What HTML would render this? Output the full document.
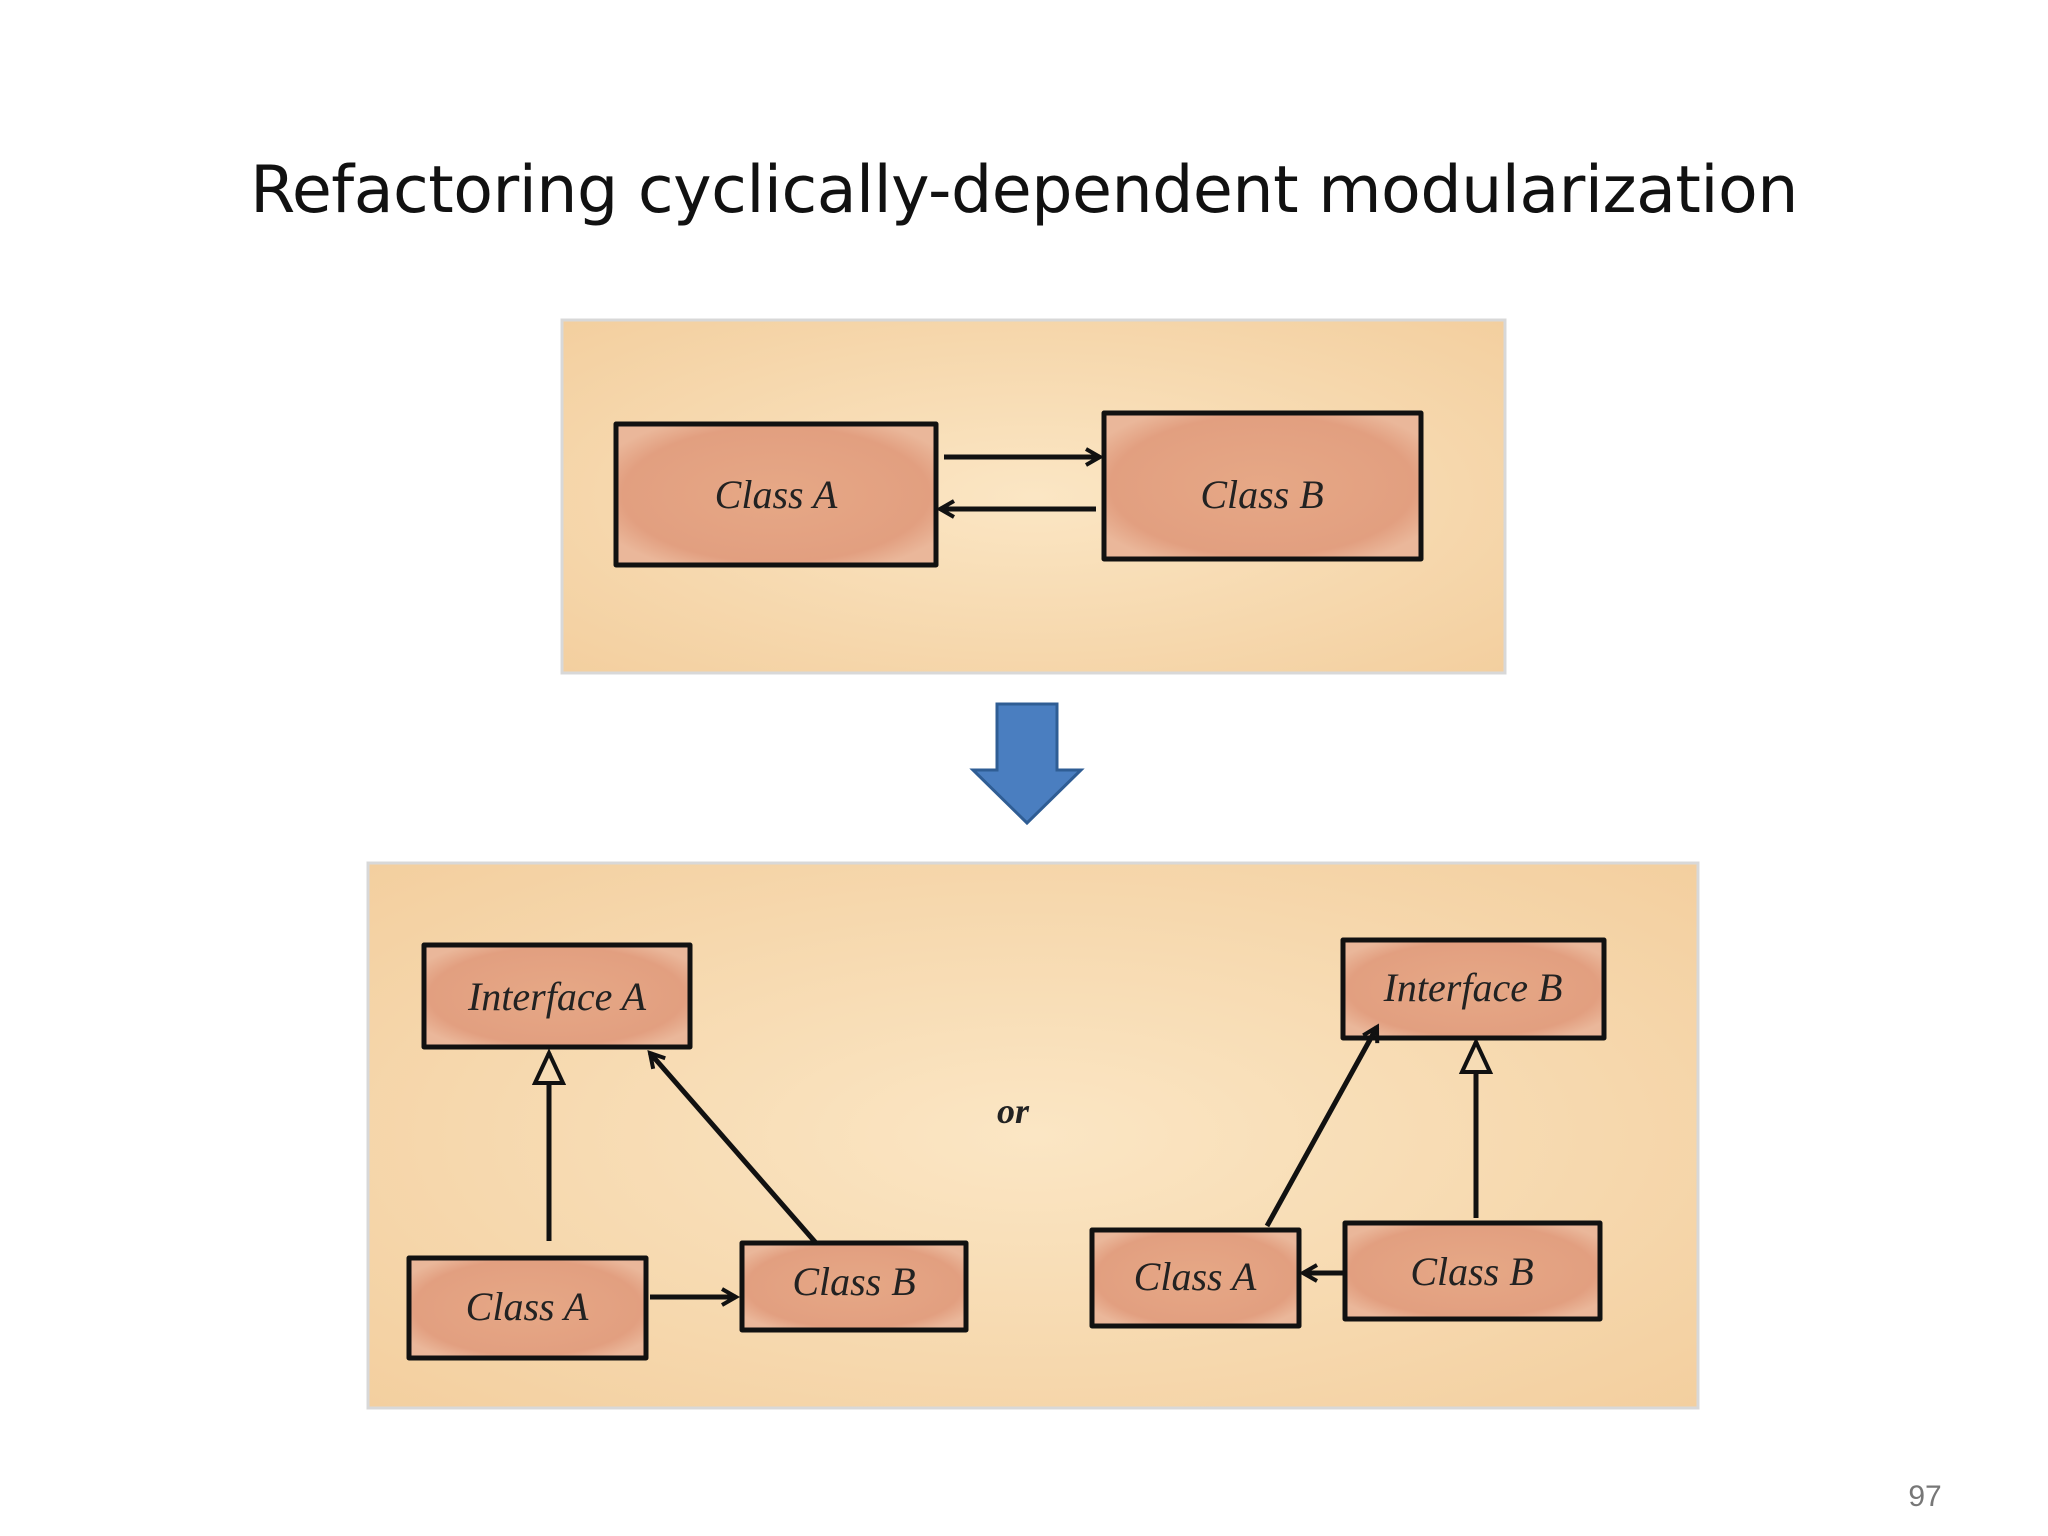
<!DOCTYPE html>
<html><head><meta charset="utf-8"><style>
html,body{margin:0;padding:0;background:#fff;}
body{width:2048px;height:1536px;overflow:hidden;position:relative;font-family:"Liberation Sans",sans-serif;}
.t{position:absolute;left:0;width:2048px;top:153px;text-align:center;font-size:65px;color:#111;font-family:"DejaVu Sans","Liberation Sans",sans-serif;letter-spacing:-0.5px;}
</style></head><body>
<div class="t">Refactoring cyclically-dependent modularization</div>
<svg width="2048" height="1536" style="position:absolute;left:0;top:0">
<defs>
<radialGradient id="bg" cx="50%" cy="50%" r="70%"><stop offset="0" stop-color="#fbe6c4"/><stop offset="1" stop-color="#f3cf9f"/></radialGradient>
<radialGradient id="bx" cx="50%" cy="50%" r="60%"><stop offset="0" stop-color="#e6a886"/><stop offset="0.8" stop-color="#e29f80"/><stop offset="1" stop-color="#eab79a"/></radialGradient>
<marker id="open" markerWidth="20" markerHeight="20" refX="16" refY="10" orient="auto" markerUnits="userSpaceOnUse"><path d="M2,2 L16,10 L2,18" fill="none" stroke="#111" stroke-width="4"/></marker>
<marker id="tri" markerWidth="40" markerHeight="40" refX="36" refY="20" orient="auto" markerUnits="userSpaceOnUse"><path d="M6,6 L36,20 L6,34 Z" fill="#f6dcb5" stroke="#111" stroke-width="4"/></marker>
</defs>
<g stroke="#d8d8d8" stroke-width="3"><rect x="562" y="320" width="943" height="353" fill="url(#bg)"/>
<rect x="368" y="863" width="1330" height="545" fill="url(#bg)"/></g>
<g fill="url(#bx)" stroke="#111" stroke-width="5" stroke-linejoin="round">
<rect x="616" y="424" width="320" height="141"/>
<rect x="1104" y="413" width="317" height="146"/>
<rect x="424" y="945" width="266" height="102"/>
<rect x="1343" y="940" width="261" height="98"/>
<rect x="409" y="1258" width="237" height="100"/>
<rect x="742" y="1243" width="224" height="87"/>
<rect x="1092" y="1230" width="207" height="96"/>
<rect x="1345" y="1223" width="255" height="96"/>
</g>
<g font-family="Liberation Serif,serif" font-size="40" fill="#222" text-anchor="middle" font-style="italic">
<text x="776" y="508">Class A</text><text x="1262" y="508">Class B</text>
<text x="557" y="1010">Interface A</text><text x="1473" y="1001">Interface B</text>
<text x="527" y="1320">Class A</text><text x="854" y="1295">Class B</text>
<text x="1195" y="1290">Class A</text><text x="1472" y="1285">Class B</text>
<text x="1013" y="1123" font-weight="bold" font-size="36">or</text>
</g>
<g stroke="#111" stroke-width="5" fill="none">
<line x1="944" y1="457" x2="1100" y2="457" marker-end="url(#open)"/>
<line x1="1096" y1="509" x2="940" y2="509" marker-end="url(#open)"/>
<line x1="549" y1="1241" x2="549" y2="1053" marker-end="url(#tri)"/>
<line x1="816" y1="1243" x2="650" y2="1053" marker-end="url(#open)"/>
<line x1="650" y1="1297" x2="736" y2="1297" marker-end="url(#open)"/>
<line x1="1267" y1="1226" x2="1377" y2="1027" marker-end="url(#open)"/>
<line x1="1476" y1="1218" x2="1476" y2="1042" marker-end="url(#tri)"/>
<line x1="1343" y1="1273" x2="1303" y2="1273" marker-end="url(#open)"/>
</g>
<path d="M997,704 L1057,704 L1057,770 L1081,770 L1027,823 L973,770 L997,770 Z" fill="#4a7ec0" stroke="#2f5d94" stroke-width="3"/>
<text x="1925" y="1506" font-size="30" fill="#777" text-anchor="middle" font-family="Liberation Sans,sans-serif">97</text>
</svg>
</body></html>
